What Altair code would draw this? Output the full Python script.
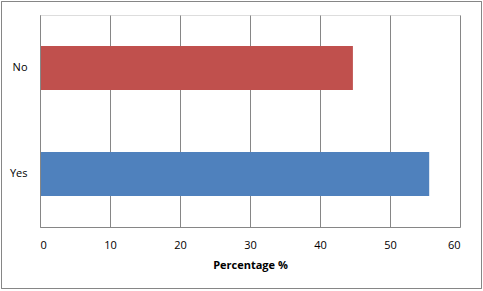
import altair as alt
import pandas as pd

categories = ["No", "Yes"]
values = [44.7, 55.6]
colors = ["#C0504D", "#4F81BD"]

df = pd.DataFrame({"answer": categories, "pct": values, "color": colors})

FONT = "Open Sans"

bars = alt.Chart(df).mark_bar(height=44).encode(
    y=alt.Y("answer:N", sort=categories,
            scale=alt.Scale(paddingInner=0, paddingOuter=0),
            axis=alt.Axis(title=None, ticks=False, domain=True, domainColor="#868686",
                          labelPadding=13, labelFontSize=11, labelColor="black",
                          labelFont=FONT, grid=False, zindex=1)),
    x=alt.X("pct:Q", scale=alt.Scale(domain=[0, 60], nice=False),
            axis=alt.Axis(title="Percentage %", values=[0, 10, 20, 30, 40, 50, 60],
                          ticks=False, domainColor="#868686", gridColor="#868686",
                          labelPadding=12, labelFontSize=11, labelColor="black", labelFont=FONT,
                          titleFont=FONT, titleFontSize=11, titleFontWeight="bold",
                          titleColor="black", titlePadding=9)),
    color=alt.Color("color:N", scale=None),
)

border = alt.Chart(df).mark_rect(fill=None, stroke="#868686", strokeWidth=1).encode(
    x=alt.value(-38.5), x2=alt.value(441.5), y=alt.value(-13.5), y2=alt.value(273.5)
)

chart = alt.layer(bars, border).properties(
    width=420, height=212,
    autosize=alt.AutoSizeParams(type="none"),
    padding={"left": 40, "top": 15, "right": 23, "bottom": 64},
).configure_view(stroke=None).configure(background="white")

chart.save("out.html", embed_options={"renderer": "svg", "actions": False})
